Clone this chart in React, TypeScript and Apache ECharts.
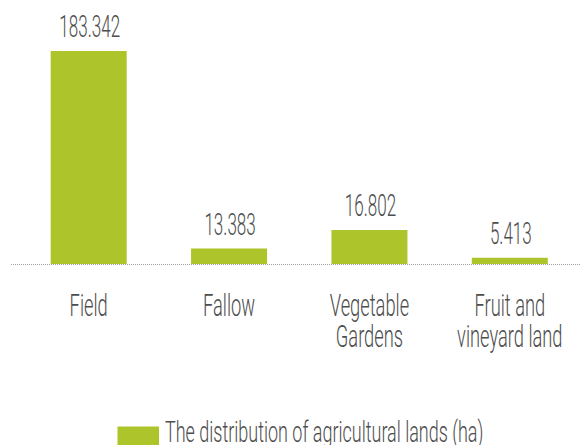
import React, { useEffect, useRef } from "react";
import * as echarts from "echarts";

const categories = ["Field", "Fallow", "Vegetable Gardens", "Fruit and vineyard land"];
const categoryLabels = ["Field", "Fallow", "Vegetable\nGardens", "Fruit and\nvineyard land"];
// bar heights
const barValues = [183.342, 13.383, 29.3, 5.413];
// value labels as printed on the picture
const valueLabels = ["183.342", "13.383", "16.802", "5.413"];
const seriesName = "The distribution of agricultural lands (ha)";

const FONT = "Roboto, 'Noto Sans', sans-serif";
const GREEN = "#adc42b";
const TEXT = "#4d4d4d";

export default function App() {
  const ref = useRef<HTMLDivElement>(null);
  useEffect(() => {
    if (!ref.current) return;
    const chart = echarts.init(ref.current, undefined, { renderer: "svg" });
    chart.setOption({
      animation: false,
      grid: { left: 18.5, width: 572, top: 31.6, bottom: 181, containLabel: false },
      xAxis: {
        type: "category",
        data: categories,
        axisLine: { show: false },
        axisTick: { show: false },
        axisLabel: { show: false },
      },
      yAxis: {
        type: "value",
        min: 0,
        max: 200,
        show: false,
        splitLine: { show: false },
      },
      legend: {
        data: [seriesName],
        left: 112.5,
        top: 421.5,
        itemWidth: 41.5,
        itemHeight: 26,
        icon: "rect",
        formatter: () => "",
        selectedMode: false,
        textStyle: { fontSize: 1 },
      },
      series: [
        {
          name: seriesName,
          type: "bar",
          data: barValues,
          barWidth: 76,
          itemStyle: { color: GREEN },
          z: 2,
        },
      ],
    });

    const graphics: any[] = [];
    const base = chart.convertToPixel({ seriesIndex: 0 }, [0, 0]) as number[];
    graphics.push({
      type: "line",
      shape: { x1: 11, y1: Math.round(base[1]) + 0.5, x2: 580, y2: Math.round(base[1]) + 0.5 },
      style: { stroke: "#a0a0a0", lineWidth: 1, lineDash: [1, 1] },
      z: 0,
    });
    barValues.forEach((v, i) => {
      const top = chart.convertToPixel({ seriesIndex: 0 }, [i, v]) as number[];
      const bot = chart.convertToPixel({ seriesIndex: 0 }, [i, 0]) as number[];
      graphics.push({
        type: "text",
        x: top[0] + 1,
        y: top[1] - 24,
        scaleX: 0.55,
        style: {
          text: valueLabels[i],
          fontFamily: FONT,
          fontWeight: 300,
          fontSize: 31,
          fill: TEXT,
          align: "center",
          verticalAlign: "middle",
        },
      });
      graphics.push({
        type: "text",
        x: bot[0],
        y: bot[1] + 26.5,
        scaleX: 0.6,
        style: {
          text: categoryLabels[i],
          fontFamily: FONT,
          fontWeight: 300,
          fontSize: 30.5,
          lineHeight: 31,
          fill: TEXT,
          align: "center",
          verticalAlign: "top",
        },
      });
    });
    graphics.push({
      type: "text",
      x: 165,
      y: 431.5,
      scaleX: 0.6,
      style: {
        text: seriesName,
        fontFamily: FONT,
        fontWeight: 300,
        fontSize: 30,
        fill: TEXT,
        align: "left",
        verticalAlign: "middle",
      },
    });
    chart.setOption({ graphic: graphics });
    return () => chart.dispose();
  }, []);
  return (
    <div
      ref={ref}
      style={{ position: "fixed", left: 0, top: 0, width: 580, height: 445, background: "#fff" }}
    />
  );
}
